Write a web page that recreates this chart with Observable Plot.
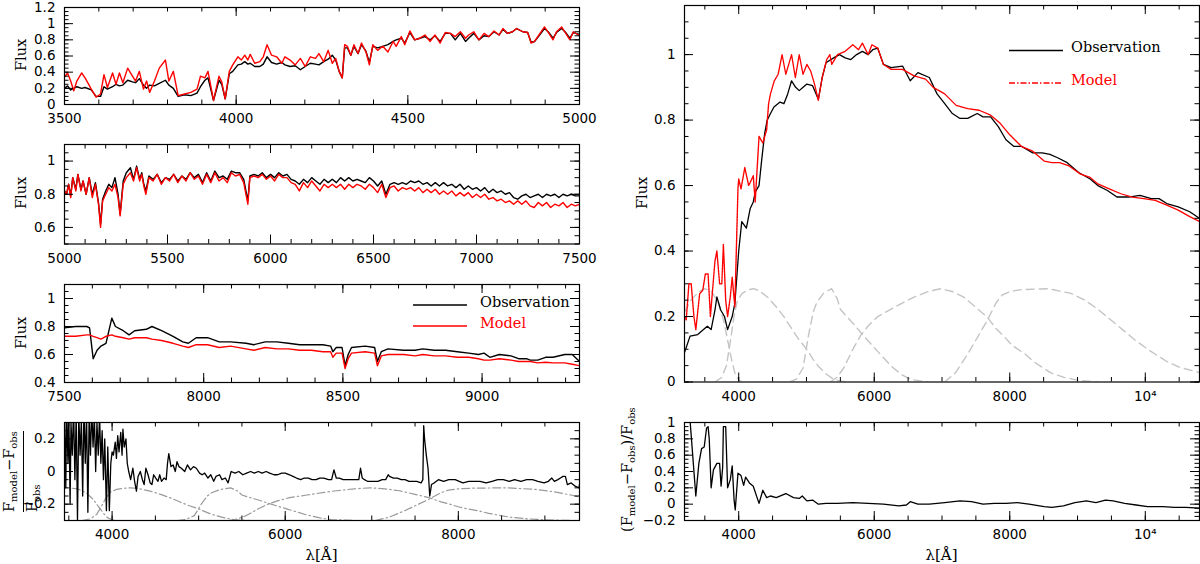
<!DOCTYPE html>
<html>
<head>
<meta charset="utf-8">
<script src="https://cdn.jsdelivr.net/npm/d3@7"></script>
<script src="https://cdn.jsdelivr.net/npm/@observablehq/plot@0.6"></script>
<style>
  body { margin: 0; background: #fff; }
  #fig { position: relative; width: 1200px; height: 564px; overflow: hidden; background: #fff; }
  #fig svg { position: absolute; overflow: visible; }
  .lab { position: absolute; font-family: "DejaVu Serif"; font-size: 14.5px; line-height: 16px; white-space: nowrap; color: #000; }
  .rot { transform-origin: 0 0; transform: rotate(-90deg); }
  .lab sub { font-size: 10px; vertical-align: -3px; }
</style>
</head>
<body>
<div id="fig"></div>
<script>
// ---- left column, panel 1 (3500-5000 A)
var p1Wave = [3500,3509,3518,3527,3536,3550,3560,3578,3592,3605,3615,3625,3640,3650,3660,3670,3684,3698,3707,3718,
  3730,3739,3748,3762,3776,3794,3804,3817,3831,3850,3868,3886,3896,3909,3918,3934,3950,3958,3968,
  3980,3990,4005,4015,4025,4034,4041,4054,4069,4079,4090,4103,4118,4133,4142,4157,4172,4187,4201,4216,
  4231,4241,4255,4268,4280,4290,4300,4309,4316,4324,4334,4343,4355,4365,4378,4388,4398,4412,4427,4442,
  4457,4466,4481,4491,4506,4520,4535,4550,4565,4579,4594,4609,4624,4638,4653,4668,4677,4692,4707,4722,
  4736,4751,4766,4777,4790,4805,4817,4835,4849,4859,4869,4882,4898,4911,4923,4933,4948,4960,4972,4982,
  4997,5000];
var p1Obs = [.2,.23,.18,.2,.22,.2,.21,.18,.1,.1,.22,.19,.22,.25,.23,.24,.3,.28,.27,.32,
  .24,.2,.24,.23,.26,.3,.24,.2,.1,.12,.11,.14,.22,.3,.33,.05,.3,.25,.07,
  .38,.41,.49,.5,.53,.5,.51,.47,.47,.5,.59,.52,.5,.52,.49,.47,.48,.43,.47,.51,
  .5,.49,.53,.56,.61,.55,.41,.33,.7,.7,.61,.72,.63,.74,.66,.52,.72,.7,.72,.74,
  .78,.8,.82,.76,.89,.8,.82,.84,.8,.85,.78,.88,.88,.8,.88,.78,.82,.88,.8,.85,
  .84,.9,.86,.93,.88,.9,.94,.9,.89,.77,.78,.85,.94,.89,.82,.89,.94,.89,.82,.89,
  .87,.87];
var p1Model = [.34,.39,.29,.17,.29,.39,.33,.19,.09,.13,.37,.21,.39,.25,.39,.27,.45,.35,.29,.41,
  .19,.29,.15,.29,.45,.55,.29,.41,.11,.13,.15,.19,.35,.33,.41,.05,.35,.28,.07,
  .41,.49,.59,.55,.61,.55,.62,.51,.53,.59,.74,.61,.59,.51,.59,.55,.49,.57,.47,.59,
  .57,.63,.53,.67,.51,.57,.41,.33,.74,.72,.61,.74,.63,.76,.65,.49,.74,.67,.72,.65,
  .78,.72,.84,.74,.91,.8,.82,.86,.78,.86,.76,.89,.88,.84,.9,.82,.86,.9,.8,.88,
  .84,.91,.86,.94,.88,.9,.94,.9,.89,.76,.78,.86,.96,.88,.8,.9,.96,.88,.8,.9,
  .86,.86];

// ---- panel 2 (5000-7500 A)
var p2Wave = [5000,5010,5020,5030,5040,5055,5065,5080,5090,5105,5120,5135,5150,5165,5175,5185,5200,5215,5230,5245,
  5260,5270,5285,5300,5320,5335,5350,5365,5375,5385,5395,5410,5430,5450,5470,5490,5510,5530,5550,5570,
  5590,5610,5630,5650,5670,5690,5710,5730,5750,5770,5790,5810,5830,5850,5870,5890,5900,5920,5940,5960,
  5980,6000,6020,6040,6060,6080,
  6100,6120,6140,6160,6180,6200,6220,6240,6260,6280,6300,6320,6340,6360,6380,6400,6420,6440,6460,6480,
  6500,6520,6540,6560,6580,6600,6620,6640,6660,6680,6700,6720,6740,6760,6780,6800,6820,6840,6860,6880,
  6900,6920,6940,6960,6980,7000,7020,7040,7060,7080,7100,7120,7140,7160,7180,7200,7220,7240,7260,7280,
  7300,7320,7340,7360,7380,7400,7420,7440,7460,7480,7500];
var p2Obs = [.82,.8,.86,.79,.9,.83,.92,.83,.88,.8,.9,.8,.87,.75,.62,.77,.82,.86,.84,.9,
  .8,.68,.88,.93,.96,.89,.97,.89,.93,.86,.82,.91,.89,.92,.87,.9,.89,.92,.88,.91,
  .89,.93,.9,.92,.87,.93,.88,.94,.9,.91,.89,.94,.93,.93,.89,.76,.91,.92,.91,.93,
  .9,.92,.9,.93,.91,.92,
  .89,.88,.86,.89,.87,.9,.88,.86,.89,.87,.89,.87,.9,.88,.9,.88,.89,.88,.87,.9,
  .88,.85,.88,.8,.86,.87,.86,.87,.86,.88,.87,.88,.86,.87,.85,.87,.85,.87,.85,.86,
  .84,.86,.83,.85,.83,.84,.82,.84,.81,.83,.81,.82,.8,.81,.78,.77,.79,.8,.78,.79,
  .8,.78,.8,.79,.8,.78,.8,.79,.8,.79,.79];
var p2Model = [.82,.8,.86,.78,.9,.82,.92,.82,.88,.8,.9,.78,.86,.74,.6,.76,.8,.84,.82,.86,
  .78,.67,.86,.9,.93,.88,.96,.88,.92,.85,.8,.9,.88,.92,.86,.9,.88,.92,.87,.91,
  .88,.93,.89,.91,.86,.92,.87,.93,.88,.9,.87,.93,.91,.92,.87,.74,.9,.91,.9,.92,
  .89,.91,.88,.92,.9,.9,
  .87,.86,.82,.87,.84,.88,.85,.82,.86,.84,.86,.84,.86,.83,.86,.84,.86,.85,.83,.86,
  .84,.81,.86,.78,.84,.85,.82,.84,.83,.84,.82,.84,.81,.83,.81,.83,.8,.82,.8,.82,
  .79,.81,.79,.81,.78,.8,.78,.8,.77,.78,.76,.77,.75,.76,.74,.76,.74,.76,.73,.72,
  .75,.73,.75,.72,.74,.73,.75,.72,.74,.73,.74];

// ---- panel 3 (7500-9350 A)
var p3Wave = [7500,7540,7580,7590,7603,7617,7631,7649,7670,7683,7711,7732,7752,7794,7814,7849,7890,7925,7945,7973,
  8014,8056,8097,8152,8180,8221,8263,8304,8345,8387,8428,8456,8464,8476,8497,8508,8519,8531,8580,8614,
  8624,8638,8662,8718,8759,8787,8828,8869,8911,8952,8987,9007,9028,9062,9104,9131,9159,9173,9200,9228,
  9255,9297,9324,9350];
var p3Obs = [.79,.8,.8,.79,.57,.63,.66,.68,.86,.8,.77,.74,.77,.78,.8,.77,.73,.69,.68,.72,
  .72,.69,.69,.68,.67,.69,.69,.68,.67,.67,.67,.66,.62,.65,.65,.52,.6,.65,.66,.65,
  .55,.62,.64,.63,.63,.64,.63,.63,.62,.61,.6,.61,.58,.6,.59,.57,.57,.56,.56,.58,
  .58,.6,.6,.55];
var p3Model = [.73,.73,.74,.74,.73,.72,.71,.73,.74,.73,.72,.71,.72,.72,.71,.7,.68,.66,.65,.67,
  .67,.65,.66,.64,.63,.65,.64,.64,.63,.63,.62,.62,.58,.61,.61,.5,.57,.61,.62,.61,
  .52,.59,.6,.6,.59,.6,.59,.59,.58,.58,.57,.56,.56,.57,.56,.55,.55,.55,.54,.545,
  .54,.54,.53,.52];

// ---- panel 4 residual (F_model - F_obs)/F_obs
var p4Wave = [3450,3465,3475,3490,3500,3515,3525,3540,3555,3570,3585,3600,3615,3630,3645,3660,3675,3690,3705,3720,
  3735,3750,3765,3780,3795,3810,3825,3840,3855,3870,3885,3900,3915,3934,3950,3968,3985,4000,4015,4036,
  4050,4065,4080,4100,4115,4125,4140,4160,4175,4192,4214,4240,4260,4281,4300,4326,4350,4370,4390,4415,
  4440,4460,4480,4504,4530,4550,4571,4600,4625,4640,4655,4680,4705,4730,4750,4772,4800,4839,4870,4906,
  4940,4973,5010,5040,5070,5107,5140,5174,5200,5241,5270,5308,5340,5375,5420,5464,5510,5554,5600,5643,
  5690,5732,5780,5821,5870,5911,5960,6000,6050,6089,6130,6179,6220,6268,6310,6357,6400,6446,6500,6536,
  6563,6590,6625,6670,6714,6760,6804,6850,6870,6890,6915,6950,6982,7030,7071,7120,7161,7190,7205,7250,
  7295,7340,7384,7430,7473,7520,7570,7590,7600,7610,7630,7650,7670,7690,7719,7770,7830,7890,7964,8010,
  8054,8120,8187,8250,8321,8390,8455,8520,8589,8650,8723,8790,8857,8920,8991,9040,9080,9110,9150,9180,
  9210,9237,9260,9304,9350,9393,9400];
var p4Res = [.35,-.1,.4,.05,.35,-.2,.3,.1,.4,-.05,.35,-.3,.35,.1,.32,-.15,.4,.05,.35,-.25,
  .35,.1,.38,.15,.35,0,.3,.1,.35,.05,.25,-.05,.2,-.24,.15,-.24,.05,.12,.1,.18,
  .08,.22,.12,.24,.1,.26,.15,.2,.05,0,-.05,.02,-.06,-.12,-.03,0,-.05,-.08,.02,-.02,
  -.07,-.08,-.02,-.04,-.06,-.02,-.06,-.04,-.05,.05,.11,.03,.04,0,.06,.03,.02,0,.04,.01,
  .03,.02,-.01,-.02,-.01,-.04,-.02,-.06,-.03,-.02,-.05,-.04,-.07,0,-.01,0,-.02,-.01,0,-.01,
  0,-.01,0,-.01,-.02,-.02,-.01,-.01,-.02,-.03,-.04,-.05,-.04,-.04,-.05,-.05,-.04,-.04,-.05,-.05,
  .01,-.04,-.04,-.05,-.05,-.05,-.05,-.05,.02,-.04,-.05,-.06,-.06,-.06,-.06,-.05,-.05,-.02,-.03,-.04,
  -.04,-.05,-.05,-.06,-.06,-.06,-.07,-.05,.28,.2,.1,.02,-.15,-.08,-.07,-.05,-.06,-.05,-.05,-.06,
  -.07,-.06,-.06,-.06,-.07,-.06,-.05,-.05,-.06,-.05,-.06,-.05,-.05,-.06,-.07,-.06,-.04,-.06,-.05,-.04,
  -.03,-.03,-.08,-.07,-.09,-.1,-.08];

// ---- filter transmission curves (normalised to their peak)
var uWave = [3200,3300,3400,3500,3600,3700,3780,3850,3900,3950,4000,4050];
var uTrans = [.75,.88,.96,1,.97,.85,.65,.4,.22,.08,.02,0];
var gWave = [3650,3750,3820,3880,3930,3980,4050,4150,4215,4300,4440,4560,4667,4800,4893,5006,5100,5175,5300,5400,5500,5600];
var gTrans = [0,.05,.18,.45,.7,.87,.95,.99,1,.98,.9,.8,.7,.55,.45,.35,.24,.17,.08,.03,.01,0];
var rWave = [4750,4850,4950,5030,5100,5150,5250,5370,5450,5500,5570,5700,5800,5900,6023,6150,6250,6400,6530,6700,6800];
var rTrans = [0,.03,.15,.5,.75,.85,.95,1,.9,.78,.72,.62,.53,.45,.35,.25,.17,.08,.03,.01,0];
var iWave = [5350,5450,5550,5684,5800,5910,6050,6249,6450,6588,6800,6983,7150,7322,7500,7661,7800,7900,8000,8100,8226,8350,8452,8600,8800,9000,9300];
var iTrans = [0,.05,.15,.35,.5,.6,.7,.78,.86,.91,.97,1,.97,.91,.8,.7,.57,.5,.42,.36,.3,.22,.17,.1,.05,.02,0];
var zWave = [7040,7200,7380,7500,7660,7800,7886,8000,8170,8565,8904,9100,9300,9600,9865,10100,10317,10500,10800];
var zTrans = [0,.1,.3,.45,.65,.85,.93,.97,.99,1,.95,.88,.78,.6,.44,.32,.22,.16,.1];

// ---- right column, broad-band smoothed spectra
var rObsWave = [3200,3282,3395,3480,3537,3593,3650,3678,3734,3790,3836,3904,3943,4000,4045,4113,4170,4215,4243,4300,
  4340,4384,4420,4469,4520,4610,4667,4723,4780,4840,4893,4950,5006,5090,5175,5232,5288,5401,5486,5571,
  5655,5740,5825,5910,5978,6051,6136,6249,6418,6531,6644,6813,6927,7040,7153,7266,7379,7520,7605,7718,
  7831,7944,8057,8170,8339,8480,8593,8706,8848,9017,9187,9300,9441,9582,9752,9921,10090,10203,10317,10486,
  10656,10800];
var rObsFlux = [.09,.14,.145,.16,.17,.16,.22,.26,.22,.2,.16,.2,.24,.4,.49,.47,.53,.55,.58,.6,
  .68,.76,.8,.82,.84,.855,.85,.88,.92,.9,.89,.9,.91,.905,.864,.93,.975,.99,1,.99,
  .985,1,1.01,1,1.015,1.02,.97,.96,.965,.92,.945,.93,.88,.85,.82,.805,.805,.82,.81,.81,
  .78,.74,.72,.72,.7,.7,.695,.685,.67,.64,.62,.6,.585,.565,.565,.57,.56,.56,.545,.535,
  .52,.5];
var rModWave = [3200,3226,3265,3299,3339,3367,3424,3469,3508,3548,3582,3650,3678,3718,3751,3774,3808,3836,3876,3904,
  3943,3989,4000,4034,4090,4147,4215,4243,4300,4356,4412,4441,4469,4525,4582,4640,4695,4780,4836,4893,
  4949,5006,5062,5119,5175,5232,5299,5345,5373,5458,5571,5684,5768,5825,5910,5966,6051,6136,6249,6418,
  6588,6757,6870,7040,7209,7379,7548,7718,7859,8000,8170,8339,8508,8622,8735,8876,9045,9187,9300,9469,
  9639,9808,9978,10147,10317,10486,10656,10800];
var rModFlux = [.2,.19,.3,.3,.2,.16,.27,.28,.33,.33,.2,.37,.4,.3,.3,.42,.25,.2,.26,.32,
  .23,.59,.62,.59,.655,.6,.63,.55,.75,.73,.77,.85,.88,.92,.94,1,.94,1,.93,1,
  .94,.97,.95,.91,.86,.93,.985,1,.97,1,1.01,1.03,1.015,1.035,1,1.03,1.02,.97,.955,.955,
  .935,.925,.9,.88,.845,.835,.83,.815,.79,.755,.72,.705,.675,.67,.67,.66,.635,.625,.605,.59,
  .575,.565,.56,.555,.54,.525,.505,.49];
var rResWave = [3275,3367,3412,3452,3491,3525,3548,3565,3593,3627,3678,3718,3740,3763,3774,3808,3836,3876,3904,3932,
  3949,3989,4034,4073,4102,4158,4215,4271,4300,4356,4412,4469,4554,4695,4808,4893,4938,5006,5090,5175,
  5288,5458,5684,5910,6136,6362,6475,6531,6644,6813,7040,7266,7435,7605,7774,7944,8113,8283,8508,8622,
  8792,8961,9131,9272,9413,9526,9695,9865,10034,10260,10429,10599,10800];
var rResVal = [1.1,.1,.5,.68,.7,.93,.95,.8,.2,.42,.5,.5,.22,.45,.95,.95,.2,.3,.47,.05,
  -.07,.38,.35,.23,.33,.26,.22,.08,.01,.17,.08,.1,.08,.13,.08,.07,.1,.04,.05,0,
  .01,.01,.02,.01,0,-.02,-.01,.03,0,0,.02,.04,.03,0,.01,.01,.02,0,-.03,-.04,
  -.02,.02,.04,.02,.05,.04,.01,-.01,-.03,-.03,-.04,-.04,-.05];

// tick positions
var leftY1 = [0,0.2,0.4,0.6,0.8,1,1.2];
var leftY2 = [0.6,0.8,1];
var leftY3 = [0.4,0.6,0.8,1];
var leftY4 = [-0.2,0,0.2];
var rightY1 = [0,0.2,0.4,0.6,0.8,1];
var rightY2 = [-0.2,0,0.2,0.4,0.6,0.8,1];
var bigX = [4000,6000,8000,10000];

var RED = "#ff0000";
var fig = document.getElementById("fig");

function rows(w, v) {
  return w.map((x, i) => ({w: x, v: v[i]})).filter(d => d.v !== undefined);
}
function fmtNum(d) {
  return (d < 0 ? "\u2212" : "") + String(Math.abs(+d.toFixed(2)));
}
function inside(vals, dom) {
  var lo = Math.min(dom[0], dom[1]) - 1e-9, hi = Math.max(dom[0], dom[1]) + 1e-9;
  return vals.filter(v => v >= lo && v <= hi);
}

// one framed panel with inward ticks on all four sides
function panel(o) {
  var mt = 8, mb = 32;
  var fw = o.fx1 - o.fx0, fh = o.fy1 - o.fy0;
  var xMaj = inside(o.xMajor, o.xdom), xMin = inside(o.xMinor, o.xdom);
  var yMaj = inside(o.yMajor, o.ydom), yMin = inside(o.yMinor, o.ydom);
  var tk = {stroke: "black", strokeWidth: 1};
  var ticks = [
    Plot.tickX(xMin, {x: d => d, insetTop: fh - 4.5, ...tk}),
    Plot.tickX(xMin, {x: d => d, insetBottom: fh - 4.5, ...tk}),
    Plot.tickX(xMaj, {x: d => d, insetTop: fh - 9, ...tk}),
    Plot.tickX(xMaj, {x: d => d, insetBottom: fh - 9, ...tk}),
    Plot.tickY(yMin, {y: d => d, insetRight: fw - 4.5, ...tk}),
    Plot.tickY(yMin, {y: d => d, insetLeft: fw - 4.5, ...tk}),
    Plot.tickY(yMaj, {y: d => d, insetRight: fw - 9, ...tk}),
    Plot.tickY(yMaj, {y: d => d, insetLeft: fw - 9, ...tk})
  ];
  var chart = Plot.plot({
    width: 600,
    height: fh + mt + mb,
    marginLeft: o.fx0 - o.left,
    marginRight: o.left + 600 - o.fx1,
    marginTop: mt,
    marginBottom: mb,
    x: {domain: o.xdom},
    y: {domain: o.ydom},
    style: {background: "transparent", fontFamily: "DejaVu Sans", fontSize: "13.5px", color: "black"},
    marks: [
      ...o.marks,
      ...ticks,
      Plot.frame({stroke: "black", strokeWidth: 1.2}),
      Plot.axisX({ticks: o.xLabels, tickSize: 0, tickPadding: 9, tickFormat: o.xFmt || (d => String(d)), label: null}),
      Plot.axisY({ticks: o.yLabels, tickSize: 0, tickPadding: 9, tickFormat: fmtNum, label: null})
    ]
  });
  chart.style.left = o.left + "px";
  chart.style.top = (o.fy0 - mt) + "px";
  fig.appendChild(chart);
}

function specMarks(wave, obs, model) {
  return [
    Plot.line(rows(wave, obs), {x: "w", y: "v", stroke: "black", strokeWidth: 1.4, clip: true}),
    Plot.line(rows(wave, model), {x: "w", y: "v", stroke: RED, strokeWidth: 1.4, clip: true})
  ];
}

function filterMarks(yOf, style) {
  var sets = [[uWave, uTrans], [gWave, gTrans], [rWave, rTrans], [iWave, iTrans], [zWave, zTrans]];
  return sets.map(s => Plot.line(rows(s[0], s[1]), {x: "w", y: d => yOf(d.v), clip: true, ...style}));
}

var L0 = 64, L1 = 579, R0 = 684, R1 = 1199;

panel({left: 0, fx0: L0, fx1: L1, fy0: 7, fy1: 104, xdom: [3500, 5000], ydom: [0, 1.2],
  xMajor: d3.range(3500, 5001, 500), xMinor: d3.range(3500, 5001, 100), xLabels: [3500, 4000, 4500, 5000],
  yMajor: leftY1, yMinor: d3.range(0, 1.21, 0.05), yLabels: leftY1,
  marks: specMarks(p1Wave, p1Obs, p1Model)});

panel({left: 0, fx0: L0, fx1: L1, fy0: 143.5, fy1: 243, xdom: [5000, 7500], ydom: [0.5, 1.1],
  xMajor: d3.range(5000, 7501, 500), xMinor: d3.range(5000, 7501, 100), xLabels: d3.range(5000, 7501, 500),
  yMajor: d3.range(0.6, 1.01, 0.2), yMinor: d3.range(0.5, 1.11, 0.05), yLabels: leftY2,
  marks: specMarks(p2Wave, p2Obs, p2Model)});

panel({left: 0, fx0: L0, fx1: L1, fy0: 283.5, fy1: 381.5, xdom: [7500, 9350], ydom: [0.4, 1.1],
  xMajor: d3.range(7500, 9351, 500), xMinor: d3.range(7500, 9351, 100), xLabels: [7500, 8000, 8500, 9000],
  yMajor: leftY3, yMinor: d3.range(0.4, 1.11, 0.05), yLabels: leftY3,
  marks: specMarks(p3Wave, p3Obs, p3Model)});

panel({left: 0, fx0: L0, fx1: L1, fy0: 422, fy1: 520, xdom: [3450, 9400], ydom: [-0.3, 0.3],
  xMajor: [4000, 6000, 8000], xMinor: d3.range(3500, 9401, 500), xLabels: [4000, 6000, 8000],
  yMajor: leftY4, yMinor: d3.range(-0.3, 0.31, 0.05), yLabels: leftY4,
  marks: [
    ...filterMarks(t => -0.3 + 0.2 * t, {stroke: "#9a9a9a", strokeWidth: 1.2, strokeDasharray: "8,3,1.5,3"}),
    Plot.line(rows(p4Wave, p4Res), {x: "w", y: "v", stroke: "black", strokeWidth: 1.3, clip: true})
  ]});

var bigFmt = d => d === 10000 ? "10\u2074" : String(d);
var modelRows = rows(rModWave, rModFlux);

panel({left: 600, fx0: R0, fx1: R1, fy0: 5, fy1: 381.5, xdom: [3200, 10800], ydom: [0, 1.15],
  xMajor: bigX, xMinor: d3.range(3500, 10801, 500), xLabels: bigX, xFmt: bigFmt,
  yMajor: rightY1, yMinor: d3.range(0, 1.151, 0.05), yLabels: rightY1,
  marks: [
    ...filterMarks(t => 0.285 * t, {stroke: "#c4c4c4", strokeWidth: 1.4, strokeDasharray: "8,5"}),
    Plot.line(rows(rObsWave, rObsFlux), {x: "w", y: "v", stroke: "black", strokeWidth: 1.3, clip: true}),
    Plot.line(modelRows.filter(d => d.w <= 4441), {x: "w", y: "v", stroke: RED, strokeWidth: 1.4, strokeDasharray: "2,1", clip: true}),
    Plot.line(modelRows.filter(d => d.w >= 4441), {x: "w", y: "v", stroke: RED, strokeWidth: 1.3, clip: true})
  ]});

panel({left: 600, fx0: R0, fx1: R1, fy0: 422, fy1: 520, xdom: [3200, 10800], ydom: [-0.2, 1],
  xMajor: bigX, xMinor: d3.range(3500, 10801, 500), xLabels: bigX, xFmt: bigFmt,
  yMajor: rightY2, yMinor: d3.range(-0.2, 1.01, 0.05), yLabels: rightY2,
  marks: [
    Plot.line(rows(rResWave, rResVal), {x: "w", y: "v", stroke: "black", strokeWidth: 1.3, clip: true})
  ]});

// ---- text labels
function label(html, x, y, opts) {
  var el = document.createElement("div");
  el.className = "lab" + (opts && opts.rot ? " rot" : "");
  el.innerHTML = html;
  el.style.left = x + "px";
  el.style.top = y + "px";
  if (opts && opts.color) el.style.color = opts.color;
  if (opts && opts.size) el.style.fontSize = opts.size;
  fig.appendChild(el);
  return el;
}
// rotated "Flux" labels, centred on (cx, cy)
function fluxLabel(cx, cy) {
  var el = label("Flux", 0, 0, {rot: true});
  var w = el.offsetWidth, h = el.offsetHeight;
  el.style.left = (cx - h / 2) + "px";
  el.style.top = (cy + w / 2) + "px";
}
fluxLabel(21, 55);
fluxLabel(21, 193);
fluxLabel(21, 333);
fluxLabel(642, 193);

// fraction label of the left residual panel
var frac = document.createElement("div");
frac.className = "lab rot";
frac.style.left = "1px";
frac.style.top = "512px";
frac.innerHTML = '<div style="border-bottom:1.2px solid #000;padding-bottom:1px">F<sub>model</sub>\u2212F<sub>obs</sub></div>' +
  '<div style="margin-top:0px">F<sub>obs</sub></div>';
fig.appendChild(frac);

label('(F<sub>model</sub>\u2212F<sub>obs</sub>)/F<sub>obs</sub>', 619, 532, {rot: true});

function centered(html, cx, cy) {
  var el = label(html, 0, 0, {size: "15px"});
  el.style.left = (cx - el.offsetWidth / 2) + "px";
  el.style.top = (cy - el.offsetHeight / 2) + "px";
}
centered("\u03bb[\u00c5]", (L0 + L1) / 2, 555);
centered("\u03bb[\u00c5]", (R0 + R1) / 2, 555);

// ---- legends
var ns = "http://www.w3.org/2000/svg";
var leg = document.createElementNS(ns, "svg");
leg.setAttribute("width", 1200);
leg.setAttribute("height", 564);
leg.style.left = "0px";
leg.style.top = "0px";
function legLine(x1, x2, y, color, dash) {
  var l = document.createElementNS(ns, "line");
  l.setAttribute("x1", x1); l.setAttribute("x2", x2);
  l.setAttribute("y1", y); l.setAttribute("y2", y);
  l.setAttribute("stroke", color); l.setAttribute("stroke-width", 1.4);
  if (dash) l.setAttribute("stroke-dasharray", dash);
  leg.appendChild(l);
}
legLine(413, 467, 305, "black");
legLine(413, 467, 326, RED);
legLine(1009, 1063, 50.5, "black");
legLine(1009, 1063, 83, RED, "6,2,1.5,2");
fig.appendChild(leg);

label("Observation", 480, 294);
label("Model", 480, 315, {color: RED});
label("Observation", 1071, 39);
label("Model", 1071, 72, {color: RED});
</script>
</body>
</html>
